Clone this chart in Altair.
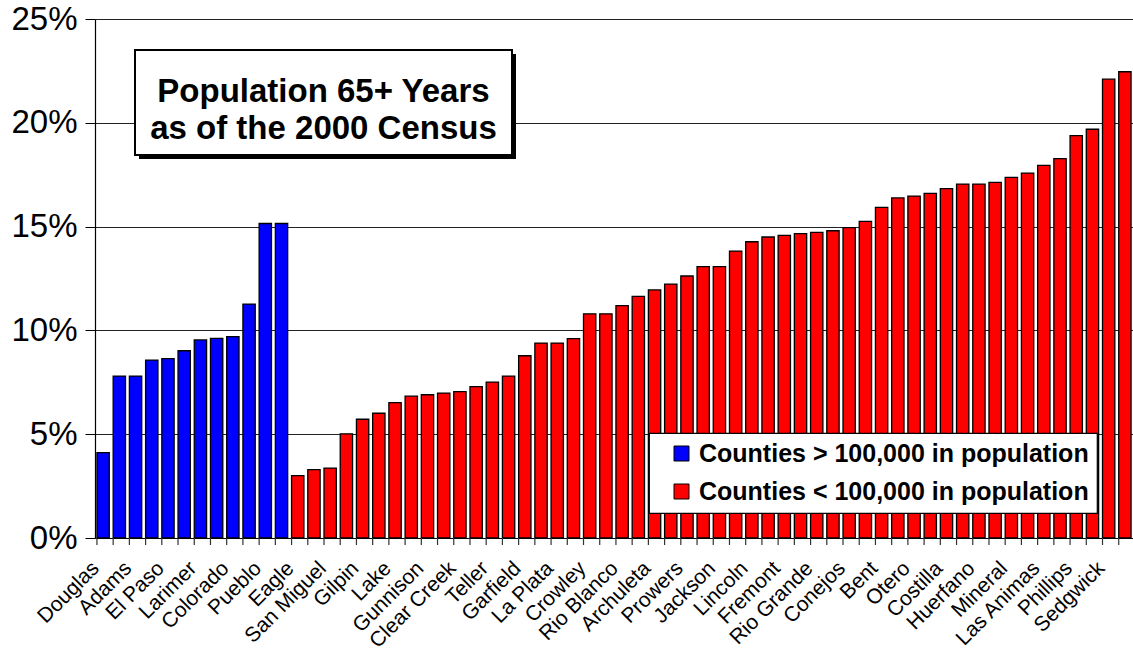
import json
import altair as alt
import pandas as pd

# Share of residents aged 65+ (percent), 2000 Census, sorted within each group
large_counties = [4.11, 7.80, 7.80, 8.57, 8.64, 9.02, 9.54, 9.62, 9.70, 11.27, 15.15, 15.15]
small_counties = [
    3.00, 3.29, 3.37, 5.02, 5.72, 6.01, 6.52, 6.83, 6.90, 6.98, 7.05, 7.29, 7.51,
    7.80, 8.78, 9.39, 9.39, 9.60, 10.80, 10.80, 11.19, 11.64, 11.95, 12.23, 12.62,
    13.07, 13.07, 13.82, 14.27, 14.50, 14.58, 14.66, 14.72, 14.80, 14.95, 15.25,
    15.93, 16.38, 16.47, 16.60, 16.83, 17.05, 17.05, 17.13, 17.37, 17.58, 17.95,
    18.27, 19.38, 19.69, 22.10, 22.46,
]

# Every other bar carries a name on the axis
tick_labels = [
    "Douglas", "Adams", "El Paso", "Larimer", "Colorado", "Pueblo", "Eagle",
    "San Miguel", "Gilpin", "Lake", "Gunnison", "Clear Creek", "Teller", "Garfield",
    "La Plata", "Crowley", "Rio Blanco", "Archuleta", "Prowers", "Jackson", "Lincoln",
    "Fremont", "Rio Grande", "Conejos", "Bent", "Otero", "Costilla", "Huerfano",
    "Mineral", "Las Animas", "Phillips", "Sedgwick",
]

groups = ["Counties > 100,000 in population", "Counties < 100,000 in population"]
colors = ["#0000FF", "#FF0000"]

values = large_counties + small_counties
df = pd.DataFrame({
    "idx": list(range(len(values))),
    "pct": values,
    "group": [groups[0]] * len(large_counties) + [groups[1]] * len(small_counties),
})

label_expr = (
    "datum.value % 2 == 0 ? " + json.dumps(tick_labels) + "[datum.value / 2] : ''"
)

W, H = 1038, 519
FONT = "Liberation Sans"

x_axis = alt.Axis(
    title=None, labelExpr=label_expr, labelAngle=-45, labelAlign="right",
    labelBaseline="bottom", labelPadding=34, ticks=False, tickSize=0,
    labelFontSize=21, labelColor="black", labelOverlap=False,
    domainColor="black", domainWidth=1.2, grid=False,
)
x_scale = alt.Scale(paddingInner=0.24, paddingOuter=0.12)

bars = alt.Chart(df).mark_bar(stroke="black", strokeWidth=1.3).encode(
    x=alt.X("idx:O", scale=x_scale, axis=x_axis),
    y=alt.Y(
        "pct:Q",
        scale=alt.Scale(domain=[0, 25], nice=False),
        axis=alt.Axis(
            title=None, values=[0, 5, 10, 15, 20, 25],
            labelExpr="datum.value + '%'", labelFontSize=33, labelColor="black",
            labelPadding=8, tickSize=10, tickColor="black", domainColor="black",
            domainWidth=1.2, grid=True, gridColor="#222222", gridWidth=1.2,
        ),
    ),
    color=alt.Color(
        "group:N",
        scale=alt.Scale(domain=groups, range=colors),
        legend=alt.Legend(
            title=None, orient="none", legendX=554, legendY=414,
            fillColor="white", strokeColor="black", padding=8,
            symbolType="square", symbolSize=225, symbolStrokeColor="black",
            symbolStrokeWidth=1, symbolOffset=12, labelOffset=5,
            labelFontSize=25, labelFontWeight="bold", labelColor="black",
            labelLimit=800, rowPadding=12, symbolOpacity=1,
        ),
    ),
)

# Category tick marks sit at the left edge of each band
ticks = alt.Chart(df).mark_rule(color="#333333", strokeWidth=1.2).encode(
    x=alt.X("idx:O", bandPosition=0, scale=x_scale, axis=x_axis),
    y=alt.value(H),
    y2=alt.value(H + 7),
)

one_row = alt.Data(values=[{}])

box_shadow = alt.Chart(one_row).mark_rect(fill="black").encode(
    x=alt.value(44), x2=alt.value(421), y=alt.value(35), y2=alt.value(140),
)
box = alt.Chart(one_row).mark_rect(fill="white", stroke="black", strokeWidth=2).encode(
    x=alt.value(40), x2=alt.value(417), y=alt.value(31), y2=alt.value(136),
)
box_text = alt.Chart(one_row).mark_text(
    text=["Population 65+ Years", "as of the 2000 Census"],
    fontSize=33, fontWeight="bold", lineHeight=37, align="center",
    baseline="middle", color="black", font=FONT,
).encode(x=alt.value(228.5), y=alt.value(73))

chart = alt.layer(bars, ticks, box_shadow, box, box_text).properties(
    width=W, height=H,
    padding={"left": 95, "top": 19, "right": 0, "bottom": 111},
    autosize=alt.AutoSizeParams(type="none"),
    background="white",
).configure(font=FONT).configure_view(stroke=None).configure_legend(strokeWidth=1.2)

chart.save("out.html", embed_options={"renderer": "svg", "actions": False})
